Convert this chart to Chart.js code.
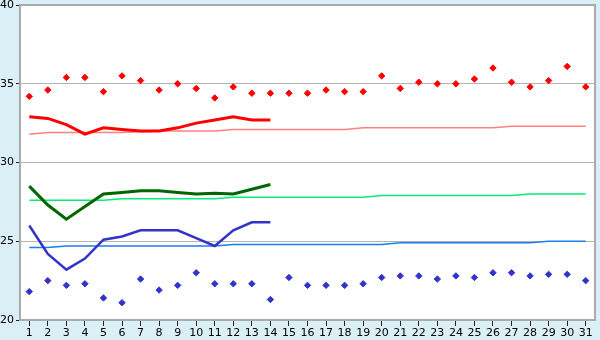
<!DOCTYPE html>
<html>
<head>
<meta charset="utf-8">
<script src="https://cdn.jsdelivr.net/npm/chart.js@4/dist/chart.umd.min.js"></script>
<style>
  html, body { margin: 0; padding: 0; background: #daeff6; }
  #wrap { width: 600px; height: 340px; }
</style>
</head>
<body>
<div id="wrap"><canvas id="chart" width="600" height="340"></canvas></div>
<script>
// days of the month
var days = [];
for (var d = 1; d <= 31; d++) days.push(String(d));

// daily maximum / minimum (points)
var maxTemps = [34.2, 34.6, 35.4, 35.4, 34.5, 35.5, 35.2, 34.6, 35.0, 34.7, 34.1, 34.8, 34.4, 34.4, 34.4,
                34.4, 34.6, 34.5, 34.5, 35.5, 34.7, 35.1, 35.0, 35.0, 35.3, 36.0, 35.1, 34.8, 35.2, 36.1, 34.8];
var minTemps = [21.8, 22.5, 22.2, 22.3, 21.4, 21.1, 22.6, 21.9, 22.2, 23.0, 22.3, 22.3, 22.3, 21.3, 22.7,
                22.2, 22.2, 22.2, 22.3, 22.7, 22.8, 22.8, 22.6, 22.8, 22.7, 23.0, 23.0, 22.8, 22.9, 22.9, 22.5];

// running values, days 1-14
var maxLine  = [32.9, 32.8, 32.4, 31.8, 32.2, 32.1, 32.0, 32.0, 32.2, 32.5, 32.7, 32.9, 32.7, 32.7];
var meanLine = [28.5, 27.3, 26.4, 27.2, 28.0, 28.1, 28.2, 28.2, 28.1, 28.0, 28.05, 28.0, 28.3, 28.6];
var minLine  = [26.0, 24.2, 23.2, 23.9, 25.1, 25.3, 25.7, 25.7, 25.7, 25.2, 24.7, 25.7, 26.2, 26.2];

// normals
var maxNormal  = [31.8, 31.9, 31.9, 31.9, 31.9, 31.9, 31.95, 32.0, 32.0, 32.0, 32.0, 32.1, 32.1, 32.1, 32.1, 32.1,
                  32.1, 32.1, 32.2, 32.2, 32.2, 32.2, 32.2, 32.2, 32.2, 32.2, 32.3, 32.3, 32.3, 32.3, 32.3];
var meanNormal = [27.6, 27.6, 27.6, 27.6, 27.6, 27.7, 27.7, 27.7, 27.7, 27.7, 27.7, 27.8, 27.8, 27.8, 27.8, 27.8,
                  27.8, 27.8, 27.8, 27.9, 27.9, 27.9, 27.9, 27.9, 27.9, 27.9, 27.9, 28.0, 28.0, 28.0, 28.0];
var minNormal  = [24.6, 24.6, 24.7, 24.7, 24.7, 24.7, 24.7, 24.7, 24.7, 24.7, 24.7, 24.8, 24.8, 24.8, 24.8, 24.8,
                  24.8, 24.8, 24.8, 24.8, 24.9, 24.9, 24.9, 24.9, 24.9, 24.9, 24.9, 24.9, 25.0, 25.0, 25.0];

var yTicks = [20, 25, 30, 35, 40];

function pad(arr) {
  var out = arr.slice();
  while (out.length < days.length) out.push(null);
  return out;
}

var frame = {
  id: 'frame',
  beforeDraw: function (chart) {
    var ctx = chart.ctx, a = chart.chartArea;
    ctx.save();
    ctx.fillStyle = '#daeff6';
    ctx.fillRect(0, 0, chart.width, chart.height);
    ctx.fillStyle = '#ffffff';
    ctx.fillRect(a.left, a.top, a.right - a.left, a.bottom - a.top);
    ctx.restore();
  },
  afterDraw: function (chart) {
    var ctx = chart.ctx, a = chart.chartArea;
    ctx.save();
    ctx.strokeStyle = '#aaaaaa';
    ctx.lineWidth = 2;
    ctx.strokeRect(a.left, a.top, a.right - a.left, a.bottom - a.top);
    ctx.restore();
  }
};

function lineSet(data, color, width) {
  return { type: 'line', data: data, borderColor: color, backgroundColor: color,
           borderWidth: width, pointRadius: 0, fill: false, tension: 0, spanGaps: false };
}
function pointSet(data, color) {
  return { type: 'line', data: data, showLine: false, pointStyle: 'rectRot',
           pointRadius: 3.2, pointBackgroundColor: color, pointBorderColor: color, pointBorderWidth: 1 };
}

new Chart(document.getElementById('chart'), {
  type: 'line',
  data: {
    labels: days,
    datasets: [
      pointSet(maxTemps, '#ff0000'),
      pointSet(minTemps, '#3333cc'),
      lineSet(pad(maxLine), '#ff0000', 3),
      lineSet(pad(meanLine), '#006600', 3),
      lineSet(pad(minLine), '#3333cc', 2.5),
      lineSet(maxNormal, '#ff8080', 1.5),
      lineSet(meanNormal, '#00ee77', 1.5),
      lineSet(minNormal, '#1a7fe8', 1.5)
    ]
  },
  options: {
    responsive: false,
    animation: false,
    layout: { padding: { top: 5, right: 5, left: 0, bottom: 0 } },
    plugins: { legend: { display: false }, tooltip: { enabled: false } },
    scales: {
      x: {
        offset: true,
        grid: { display: true, drawOnChartArea: false, drawTicks: true, tickLength: 6, color: '#222222', offset: false },
        border: { display: true, color: '#aaaaaa', width: 2 },
        ticks: { color: '#000000', font: { family: 'DejaVu Sans', size: 11 }, maxRotation: 0, autoSkip: false, padding: 1 },
        afterFit: function (s) { s.height = 20; }
      },
      y: {
        min: 20, max: 40,
        afterBuildTicks: function (s) { s.ticks = yTicks.map(function (v) { return { value: v }; }); },
        grid: { color: '#b4b4b4', lineWidth: 1, tickLength: 4, tickColor: '#222222' },
        border: { display: true, color: '#aaaaaa', width: 2 },
        ticks: { color: '#000000', font: { family: 'DejaVu Sans', size: 11 }, padding: 2 },
        afterFit: function (s) { s.width = 20; s.paddingTop = 0; s.paddingBottom = 0; }
      }
    }
  },
  plugins: [frame]
});
</script>
</body>
</html>
